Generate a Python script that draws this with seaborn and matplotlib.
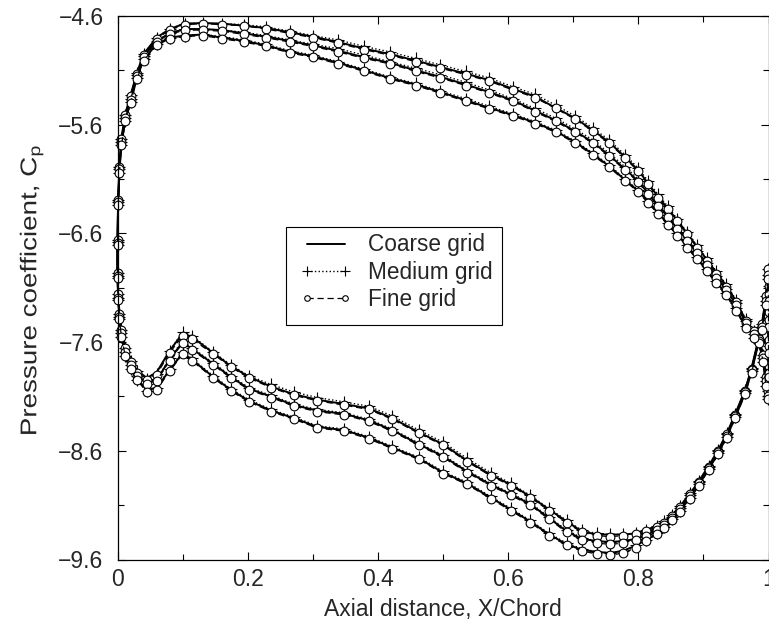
import matplotlib
matplotlib.use("Agg")
import matplotlib.pyplot as plt
import seaborn as sns
import pandas as pd
from matplotlib.lines import Line2D
from matplotlib.patches import Rectangle
from matplotlib.patheffects import AbstractPathEffect
from matplotlib.transforms import Affine2D
from matplotlib.ticker import FixedLocator, FuncFormatter

# ---------------- data ----------------
grids = ["Coarse grid", "Medium grid", "Fine grid"]
sections = ["S1", "S2", "S3"]

# suction side, trailing edge -> leading edge
x_upper = [0.965, 0.95, 0.935, 0.92, 0.905, 0.89, 0.875, 0.86, 0.845, 0.83, 0.815,
           0.80, 0.78, 0.755, 0.73, 0.703, 0.673, 0.641, 0.607, 0.571, 0.535, 0.496,
           0.458, 0.418, 0.379, 0.339, 0.30, 0.265, 0.228, 0.195, 0.161, 0.131, 0.103,
           0.08, 0.06, 0.04, 0.03, 0.02, 0.012, 0.006, 0.003, 0.001, 0.0]
# pressure side, leading edge -> trailing edge
x_lower = [0.0, 0.001, 0.003, 0.006, 0.012, 0.02, 0.03, 0.045, 0.06, 0.08, 0.1, 0.114,
           0.147, 0.174, 0.202, 0.236, 0.271, 0.307, 0.348, 0.386, 0.422, 0.463, 0.50,
           0.537, 0.573, 0.604, 0.634, 0.663, 0.69, 0.713, 0.736, 0.757, 0.777, 0.797,
           0.812, 0.828, 0.84, 0.852, 0.864, 0.88, 0.893, 0.908, 0.923, 0.936, 0.949,
           0.964, 0.974, 0.985]
# trailing-edge closure
x_te = [0.992, 0.996, 0.999, 1.0, 1.0, 1.0, 1.0, 0.999, 0.996, 0.99, 0.978]

cp_up_coarse_s1 = [-7.40, -7.22, -7.08, -6.96, -6.84, -6.72, -6.60, -6.48, -6.37, -6.26, -6.14,
                   -6.02, -5.90, -5.76, -5.65, -5.54, -5.445, -5.34, -5.27, -5.19, -5.13, -5.07,
                   -5.01, -4.95, -4.90, -4.84, -4.79, -4.75, -4.71, -4.69, -4.67, -4.665, -4.67,
                   -4.72, -4.80, -4.95, -5.12, -5.33, -5.50, -5.72, -5.98, -6.28, -6.65]
cp_up_coarse_s2 = [-7.42, -7.25, -7.12, -7.00, -6.88, -6.77, -6.66, -6.55, -6.44, -6.34, -6.23,
                   -6.12, -6.01, -5.88, -5.76, -5.66, -5.56, -5.47, -5.375, -5.30, -5.23, -5.16,
                   -5.10, -5.03, -4.98, -4.92, -4.87, -4.83, -4.79, -4.76, -4.73, -4.72, -4.72,
                   -4.76, -4.83, -4.97, -5.14, -5.36, -5.53, -5.75, -6.00, -6.30, -6.68]
cp_up_coarse_s3 = [-7.46, -7.30, -7.16, -7.05, -6.94, -6.83, -6.72, -6.61, -6.51, -6.41, -6.31,
                   -6.21, -6.11, -5.98, -5.87, -5.76, -5.66, -5.58, -5.51, -5.445, -5.375, -5.30,
                   -5.23, -5.17, -5.10, -5.03, -4.97, -4.93, -4.87, -4.83, -4.80, -4.77, -4.78,
                   -4.80, -4.86, -5.00, -5.17, -5.39, -5.56, -5.78, -6.03, -6.33, -6.70]
cp_up_medium_s1 = [-7.39, -7.21, -7.07, -6.95, -6.83, -6.71, -6.59, -6.47, -6.35, -6.24, -6.12,
                   -6.00, -5.88, -5.74, -5.63, -5.52, -5.42, -5.32, -5.25, -5.17, -5.11, -5.05,
                   -4.99, -4.93, -4.88, -4.82, -4.78, -4.74, -4.70, -4.68, -4.67, -4.665, -4.67,
                   -4.72, -4.80, -4.95, -5.12, -5.33, -5.51, -5.73, -5.99, -6.29, -6.66]
cp_up_medium_s2 = [-7.41, -7.24, -7.11, -6.99, -6.87, -6.76, -6.65, -6.54, -6.43, -6.32, -6.21,
                   -6.10, -5.99, -5.86, -5.74, -5.64, -5.54, -5.45, -5.36, -5.28, -5.21, -5.14,
                   -5.08, -5.02, -4.96, -4.90, -4.86, -4.82, -4.78, -4.75, -4.73, -4.72, -4.72,
                   -4.76, -4.83, -4.97, -5.14, -5.36, -5.54, -5.76, -6.01, -6.31, -6.68]
cp_up_medium_s3 = [-7.45, -7.29, -7.15, -7.04, -6.93, -6.82, -6.71, -6.60, -6.50, -6.40, -6.30,
                   -6.20, -6.10, -5.97, -5.86, -5.75, -5.65, -5.57, -5.50, -5.43, -5.36, -5.29,
                   -5.22, -5.16, -5.09, -5.02, -4.96, -4.92, -4.86, -4.82, -4.79, -4.77, -4.78,
                   -4.80, -4.86, -5.00, -5.17, -5.39, -5.57, -5.79, -6.04, -6.34, -6.71]
cp_up_fine_s1 = [-7.41, -7.23, -7.09, -6.97, -6.85, -6.73, -6.61, -6.49, -6.38, -6.27, -6.15,
                 -6.03, -5.91, -5.77, -5.66, -5.55, -5.45, -5.35, -5.28, -5.20, -5.14, -5.08,
                 -5.02, -4.96, -4.91, -4.85, -4.80, -4.76, -4.72, -4.69, -4.68, -4.67, -4.68,
                 -4.73, -4.81, -4.96, -5.13, -5.34, -5.51, -5.73, -5.99, -6.29, -6.66]
cp_up_fine_s2 = [-7.42, -7.26, -7.12, -7.01, -6.89, -6.78, -6.67, -6.56, -6.45, -6.35, -6.24,
                 -6.13, -6.02, -5.89, -5.77, -5.67, -5.57, -5.48, -5.385, -5.31, -5.24, -5.17,
                 -5.11, -5.04, -4.99, -4.93, -4.88, -4.84, -4.80, -4.77, -4.74, -4.73, -4.73,
                 -4.77, -4.84, -4.98, -5.15, -5.37, -5.54, -5.76, -6.01, -6.31, -6.69]
cp_up_fine_s3 = [-7.47, -7.31, -7.17, -7.06, -6.95, -6.84, -6.73, -6.62, -6.52, -6.42, -6.32,
                 -6.22, -6.12, -5.99, -5.88, -5.77, -5.67, -5.59, -5.52, -5.455, -5.385, -5.31,
                 -5.24, -5.18, -5.11, -5.04, -4.98, -4.94, -4.88, -4.84, -4.81, -4.78, -4.79,
                 -4.81, -4.87, -5.01, -5.18, -5.40, -5.57, -5.79, -6.04, -6.34, -6.71]

cp_lo_coarse_s1 = [-6.95, -7.15, -7.33, -7.48, -7.64, -7.76, -7.86, -7.93, -7.88, -7.68, -7.52, -7.55,
                   -7.70, -7.82, -7.92, -8.01, -8.08, -8.13, -8.17, -8.21, -8.30, -8.43, -8.54,
                   -8.69, -8.82, -8.91, -9.02, -9.14, -9.25, -9.34, -9.37, -9.37, -9.37, -9.36,
                   -9.33, -9.29, -9.25, -9.19, -9.11, -8.99, -8.88, -8.74, -8.59, -8.44, -8.26,
                   -8.04, -7.84, -7.56]
cp_lo_coarse_s2 = [-6.98, -7.18, -7.36, -7.51, -7.68, -7.80, -7.90, -7.98, -7.95, -7.76, -7.60, -7.66,
                   -7.80, -7.92, -8.03, -8.10, -8.18, -8.23, -8.26, -8.32, -8.41, -8.54, -8.65,
                   -8.79, -8.91, -9.00, -9.09, -9.22, -9.34, -9.41, -9.43, -9.44, -9.43, -9.41,
                   -9.37, -9.32, -9.27, -9.21, -9.13, -9.01, -8.89, -8.75, -8.60, -8.45, -8.27,
                   -8.05, -7.85, -7.58]
cp_lo_coarse_s3 = [-7.00, -7.20, -7.38, -7.54, -7.72, -7.84, -7.94, -8.04, -8.02, -7.86, -7.70, -7.76,
                   -7.92, -8.04, -8.14, -8.23, -8.30, -8.38, -8.41, -8.48, -8.57, -8.67, -8.80,
                   -8.90, -9.03, -9.14, -9.25, -9.37, -9.46, -9.51, -9.53, -9.54, -9.52, -9.47,
                   -9.42, -9.36, -9.30, -9.23, -9.15, -9.03, -8.91, -8.77, -8.62, -8.47, -8.29,
                   -8.07, -7.87, -7.60]
cp_lo_medium_s1 = [-6.96, -7.16, -7.34, -7.49, -7.65, -7.77, -7.87, -7.94, -7.89, -7.68, -7.51, -7.54,
                   -7.69, -7.81, -7.91, -7.99, -8.06, -8.11, -8.15, -8.19, -8.28, -8.41, -8.52,
                   -8.67, -8.80, -8.90, -9.01, -9.13, -9.24, -9.33, -9.36, -9.37, -9.37, -9.36,
                   -9.33, -9.29, -9.25, -9.19, -9.11, -8.99, -8.88, -8.74, -8.59, -8.44, -8.26,
                   -8.04, -7.84, -7.57]
cp_lo_medium_s2 = [-6.99, -7.19, -7.37, -7.52, -7.69, -7.81, -7.91, -7.99, -7.95, -7.75, -7.59, -7.65,
                   -7.79, -7.91, -8.02, -8.09, -8.17, -8.22, -8.25, -8.31, -8.40, -8.53, -8.64,
                   -8.78, -8.90, -8.99, -9.08, -9.21, -9.33, -9.40, -9.43, -9.44, -9.43, -9.41,
                   -9.37, -9.32, -9.27, -9.21, -9.13, -9.01, -8.89, -8.75, -8.60, -8.45, -8.27,
                   -8.05, -7.85, -7.59]
cp_lo_medium_s3 = [-7.01, -7.21, -7.39, -7.55, -7.73, -7.85, -7.95, -8.05, -8.02, -7.85, -7.69, -7.75,
                   -7.91, -8.03, -8.13, -8.22, -8.29, -8.37, -8.40, -8.47, -8.56, -8.66, -8.79,
                   -8.89, -9.02, -9.13, -9.24, -9.36, -9.45, -9.50, -9.53, -9.54, -9.52, -9.47,
                   -9.42, -9.36, -9.30, -9.23, -9.15, -9.03, -8.91, -8.77, -8.62, -8.47, -8.29,
                   -8.07, -7.87, -7.61]
cp_lo_fine_s1 = [-6.96, -7.16, -7.34, -7.49, -7.65, -7.78, -7.88, -7.95, -7.90, -7.70, -7.54, -7.57,
                 -7.71, -7.83, -7.93, -8.02, -8.09, -8.14, -8.18, -8.22, -8.31, -8.44, -8.55,
                 -8.70, -8.83, -8.92, -9.03, -9.15, -9.26, -9.35, -9.38, -9.39, -9.38, -9.37,
                 -9.34, -9.30, -9.26, -9.20, -9.12, -9.00, -8.89, -8.75, -8.60, -8.45, -8.27,
                 -8.05, -7.85, -7.57]
cp_lo_fine_s2 = [-6.99, -7.19, -7.37, -7.52, -7.69, -7.81, -7.91, -7.99, -7.96, -7.77, -7.61, -7.67,
                 -7.81, -7.93, -8.04, -8.11, -8.19, -8.24, -8.27, -8.33, -8.42, -8.55, -8.66,
                 -8.80, -8.92, -9.01, -9.10, -9.23, -9.35, -9.42, -9.45, -9.46, -9.45, -9.42,
                 -9.38, -9.33, -9.28, -9.22, -9.14, -9.02, -8.90, -8.76, -8.61, -8.46, -8.28,
                 -8.06, -7.86, -7.59]
cp_lo_fine_s3 = [-7.01, -7.21, -7.39, -7.55, -7.73, -7.85, -7.95, -8.06, -8.04, -7.87, -7.71, -7.77,
                 -7.93, -8.05, -8.15, -8.24, -8.31, -8.39, -8.42, -8.49, -8.58, -8.68, -8.81,
                 -8.91, -9.04, -9.15, -9.26, -9.38, -9.47, -9.52, -9.55, -9.56, -9.54, -9.49,
                 -9.43, -9.37, -9.31, -9.24, -9.16, -9.04, -8.92, -8.78, -8.63, -8.48, -8.30,
                 -8.08, -7.88, -7.61]

cp_te_s1 = [-7.72, -7.92, -8.05, -7.82, -7.58, -7.32, -7.08, -6.93, -7.18, -7.43, -7.50]
cp_te_s2 = [-7.75, -7.96, -8.10, -7.88, -7.64, -7.40, -7.16, -6.98, -7.22, -7.46, -7.53]
cp_te_s3 = [-7.78, -8.00, -8.12, -7.92, -7.70, -7.46, -7.22, -7.02, -7.26, -7.49, -7.56]

x_major = [0, 0.2, 0.4, 0.6, 0.8, 1.0]
x_minor = [0.1, 0.3, 0.5, 0.7, 0.9]
y_major = [-9.6, -8.6, -7.6, -6.6, -5.6, -4.6]
y_minor = [-9.1, -8.1, -7.1, -6.1, -5.1]

upper = {
    ("Coarse grid", "S1"): cp_up_coarse_s1, ("Coarse grid", "S2"): cp_up_coarse_s2,
    ("Coarse grid", "S3"): cp_up_coarse_s3, ("Medium grid", "S1"): cp_up_medium_s1,
    ("Medium grid", "S2"): cp_up_medium_s2, ("Medium grid", "S3"): cp_up_medium_s3,
    ("Fine grid", "S1"): cp_up_fine_s1, ("Fine grid", "S2"): cp_up_fine_s2,
    ("Fine grid", "S3"): cp_up_fine_s3,
}
lower = {
    ("Coarse grid", "S1"): cp_lo_coarse_s1, ("Coarse grid", "S2"): cp_lo_coarse_s2,
    ("Coarse grid", "S3"): cp_lo_coarse_s3, ("Medium grid", "S1"): cp_lo_medium_s1,
    ("Medium grid", "S2"): cp_lo_medium_s2, ("Medium grid", "S3"): cp_lo_medium_s3,
    ("Fine grid", "S1"): cp_lo_fine_s1, ("Fine grid", "S2"): cp_lo_fine_s2,
    ("Fine grid", "S3"): cp_lo_fine_s3,
}
te = {"S1": cp_te_s1, "S2": cp_te_s2, "S3": cp_te_s3}

rows = []
for g in grids:
    for s in sections:
        xs = x_upper + x_lower + x_te
        ys = upper[(g, s)] + lower[(g, s)] + te[s]
        for xv, yv in zip(xs, ys):
            rows.append({"x": xv, "cp": yv, "grid": g, "section": s})
df = pd.DataFrame(rows)


# squeeze the glyph height of the rotated y label (its letters are slimmer in the reference)
class Squeeze(AbstractPathEffect):
    def __init__(self, sx=1.0, sy=1.0):
        super().__init__()
        self.sx, self.sy = sx, sy

    def draw_path(self, renderer, gc, tpath, affine, rgbFace=None):
        v = tpath.vertices
        cx = (v[:, 0].min() + v[:, 0].max()) / 2 if len(v) else 0.0
        t = Affine2D().translate(-cx, 0).scale(self.sx, self.sy).translate(cx, 0)
        renderer.draw_path(gc, tpath, t + affine, rgbFace)


# ---------------- style ----------------
sns.set_style("ticks")
plt.rcParams["font.family"] = ["Liberation Sans", "DejaVu Sans"]
plt.rcParams["mathtext.fontset"] = "custom"
plt.rcParams["mathtext.rm"] = "Liberation Sans"

fig = plt.figure(figsize=(7.69, 6.26), dpi=100)
AX_L, AX_B, AX_W, AX_H = 117.5, 559.5, 651.0, 543.5   # pixel frame of the axes
ax = fig.add_axes([AX_L / 769, 1 - AX_B / 626, AX_W / 769, AX_H / 626])

styles = {
    "Coarse grid": dict(linestyle="-", linewidth=1.4),
    "Medium grid": dict(linestyle=":", linewidth=1.0, marker="+", markersize=9,
                        markeredgewidth=0.8, markeredgecolor="black"),
    "Fine grid": dict(linestyle=(0, (5, 3)), linewidth=0.9, marker="o", markersize=6.3,
                      markeredgewidth=0.8, markeredgecolor="black",
                      markerfacecolor="white"),
}
for g in grids:
    sub = df[df["grid"] == g]
    sns.lineplot(data=sub, x="x", y="cp", units="section", estimator=None, sort=False,
                 color="black", legend=False, ax=ax, clip_on=False, **styles[g])

ax.set_xlim(0, 1)
ax.set_ylim(-9.6, -4.6)
ax.xaxis.set_major_locator(FixedLocator(x_major))
ax.xaxis.set_minor_locator(FixedLocator(x_minor))
ax.yaxis.set_major_locator(FixedLocator(y_major))
ax.yaxis.set_minor_locator(FixedLocator(y_minor))
ax.xaxis.set_major_formatter(FuncFormatter(lambda v, p: f"{v:g}"))
ax.yaxis.set_major_formatter(FuncFormatter(lambda v, p: f"{v:.1f}".replace("-", "\u2212")))
ax.tick_params(which="both", direction="in", top=True, right=True, width=0.8,
               color="black", labelsize=16.5)
ax.tick_params(which="major", length=6)
ax.tick_params(which="minor", length=4)
ax.tick_params(axis="x", pad=6)
ax.tick_params(axis="y", pad=10)
for sp in ax.spines.values():
    sp.set_visible(True)
    sp.set_linewidth(0.9)
    sp.set_color("black")

ax.set_xlabel("Axial distance, X/Chord", fontsize=16.5, labelpad=5.5)
ax.set_ylabel("Pressure coefficient, C$_\\mathregular{p}$", fontsize=20)
ax.yaxis.label.set_path_effects([Squeeze(1.0, 0.82)])
ax.yaxis.set_label_coords(-0.108, 0.495)

# legend frame (drawn as a box) and entries
ax.add_patch(Rectangle(((286 - AX_L) / AX_W, (AX_B - 325) / AX_H), 216 / AX_W, 98 / AX_H,
                       transform=ax.transAxes, facecolor="white", edgecolor="black",
                       linewidth=0.8, zorder=4))
handles = [
    Line2D([], [], color="black", linestyle="-", linewidth=1.4),
    Line2D([], [], color="black", linestyle=":", linewidth=1.0, marker="+",
           markersize=7, markeredgewidth=0.8),
    Line2D([], [], color="black", linestyle=(0, (5, 3)), linewidth=0.9, marker="o",
           markersize=4, markeredgewidth=0.8, markerfacecolor="white"),
]
leg = ax.legend(handles, grids, loc="upper left",
                bbox_to_anchor=((300 - AX_L) / AX_W, (AX_B - 233.5) / AX_H),
                borderaxespad=0, numpoints=2, handlelength=2.3, handletextpad=0.7,
                labelspacing=0.19, borderpad=0.0, frameon=False, fontsize=16.3)
leg.set_zorder(5)

fig.savefig("out.png", dpi=100)
